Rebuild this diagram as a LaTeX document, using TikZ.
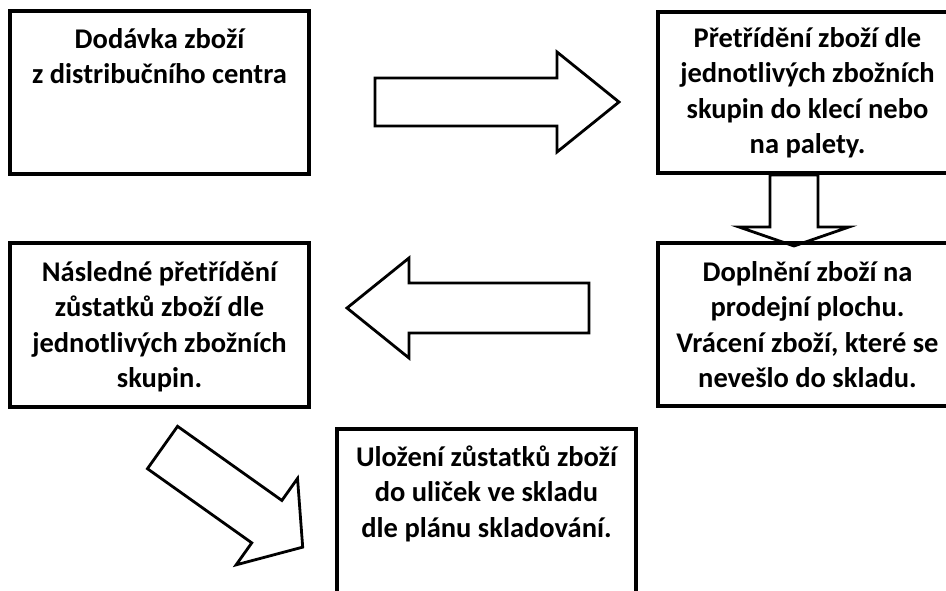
\documentclass[tikz,border=0pt]{standalone}
\usepackage{fontspec}
\setmainfont{Carlito}
\usetikzlibrary{positioning,calc}

\tikzset{
  krok/.style={draw=black, line width=4pt, minimum width=299pt, inner sep=0pt},
  popis/.style={anchor=base, align=flush center, text width=296pt, inner sep=0pt,
    font=\bfseries\fontsize{28.5}{35.5}\selectfont},
  sipka/.style={draw=black, line width=2.8pt, line join=miter},
}
% block arrow: tail point, angle, length, head length, shaft half width, head half width
\newcommand{\blocksipka}[6]{%
  \begin{scope}[shift={(#1)},rotate=#2]
    \draw[sipka] (0,-#5) -- ({#3-#4},-#5) -- ({#3-#4},-#6) -- (#3,0)
      -- ({#3-#4},#6) -- ({#3-#4},#5) -- (0,#5) -- cycle;
  \end{scope}}

\begin{document}
\begin{tikzpicture}[x=1pt,y=-1pt]
  \useasboundingbox (0,0) rectangle (946,590);
  \clip (0,0) rectangle (946,590);

  % process steps
  \node[krok, minimum height=163pt] (dodavka)  at (159.5,92.5) {};
  \node[krok, minimum height=161pt] (pretrid)  at (807.5,92.5) {};
  \node[krok, minimum height=163pt] (doplneni) at (807.5,324.5) {};
  \node[krok, minimum height=164pt] (nasled)   at (159.5,325) {};
  \node[krok, minimum height=181pt] (ulozeni)  at (486.5,519.5) {};

  \node[popis] (dodavka-t)  at ($(dodavka.north)+(0,39)$)
    {Dodávka zboží\\z distribučního centra};
  \node[popis] (pretrid-t)  at ($(pretrid.north)+(0,37)$)
    {Přetřídění zboží dle\\jednotlivých zbožních\\skupin do klecí nebo\\na palety.};
  \node[popis] (doplneni-t) at ($(doplneni.north)+(0,40)$)
    {Doplnění zboží na\\prodejní plochu.\\Vrácení zboží, které se\\nevešlo do skladu.};
  \node[popis] (nasled-t)   at ($(nasled.north)+(0,40)$)
    {Následné přetřídění\\zůstatků zboží dle\\jednotlivých zbožních\\skupin.};
  \node[popis] (ulozeni-t)  at ($(ulozeni.north)+(0,39)$)
    {Uložení zůstatků zboží\\do uliček ve skladu\\dle plánu skladování.};

  % block arrows between the steps
  \coordinate (a1) at ($(dodavka.east)+(64,9.5)$);
  \coordinate (a2) at ($(pretrid.south)+(-13.5,0)$);
  \coordinate (a3) at ($(doplneni.west)+(-67,-16.5)$);
  \coordinate (a4) at (162.5,447.5);
  \blocksipka{a1}{0}{244}{62}{24}{50}
  \blocksipka{a2}{-90}{71}{19}{24}{55}
  \blocksipka{a3}{180}{242}{62}{25}{50}
  \blocksipka{a4}{-35.4}{172}{44}{26}{53}
\end{tikzpicture}
\end{document}
